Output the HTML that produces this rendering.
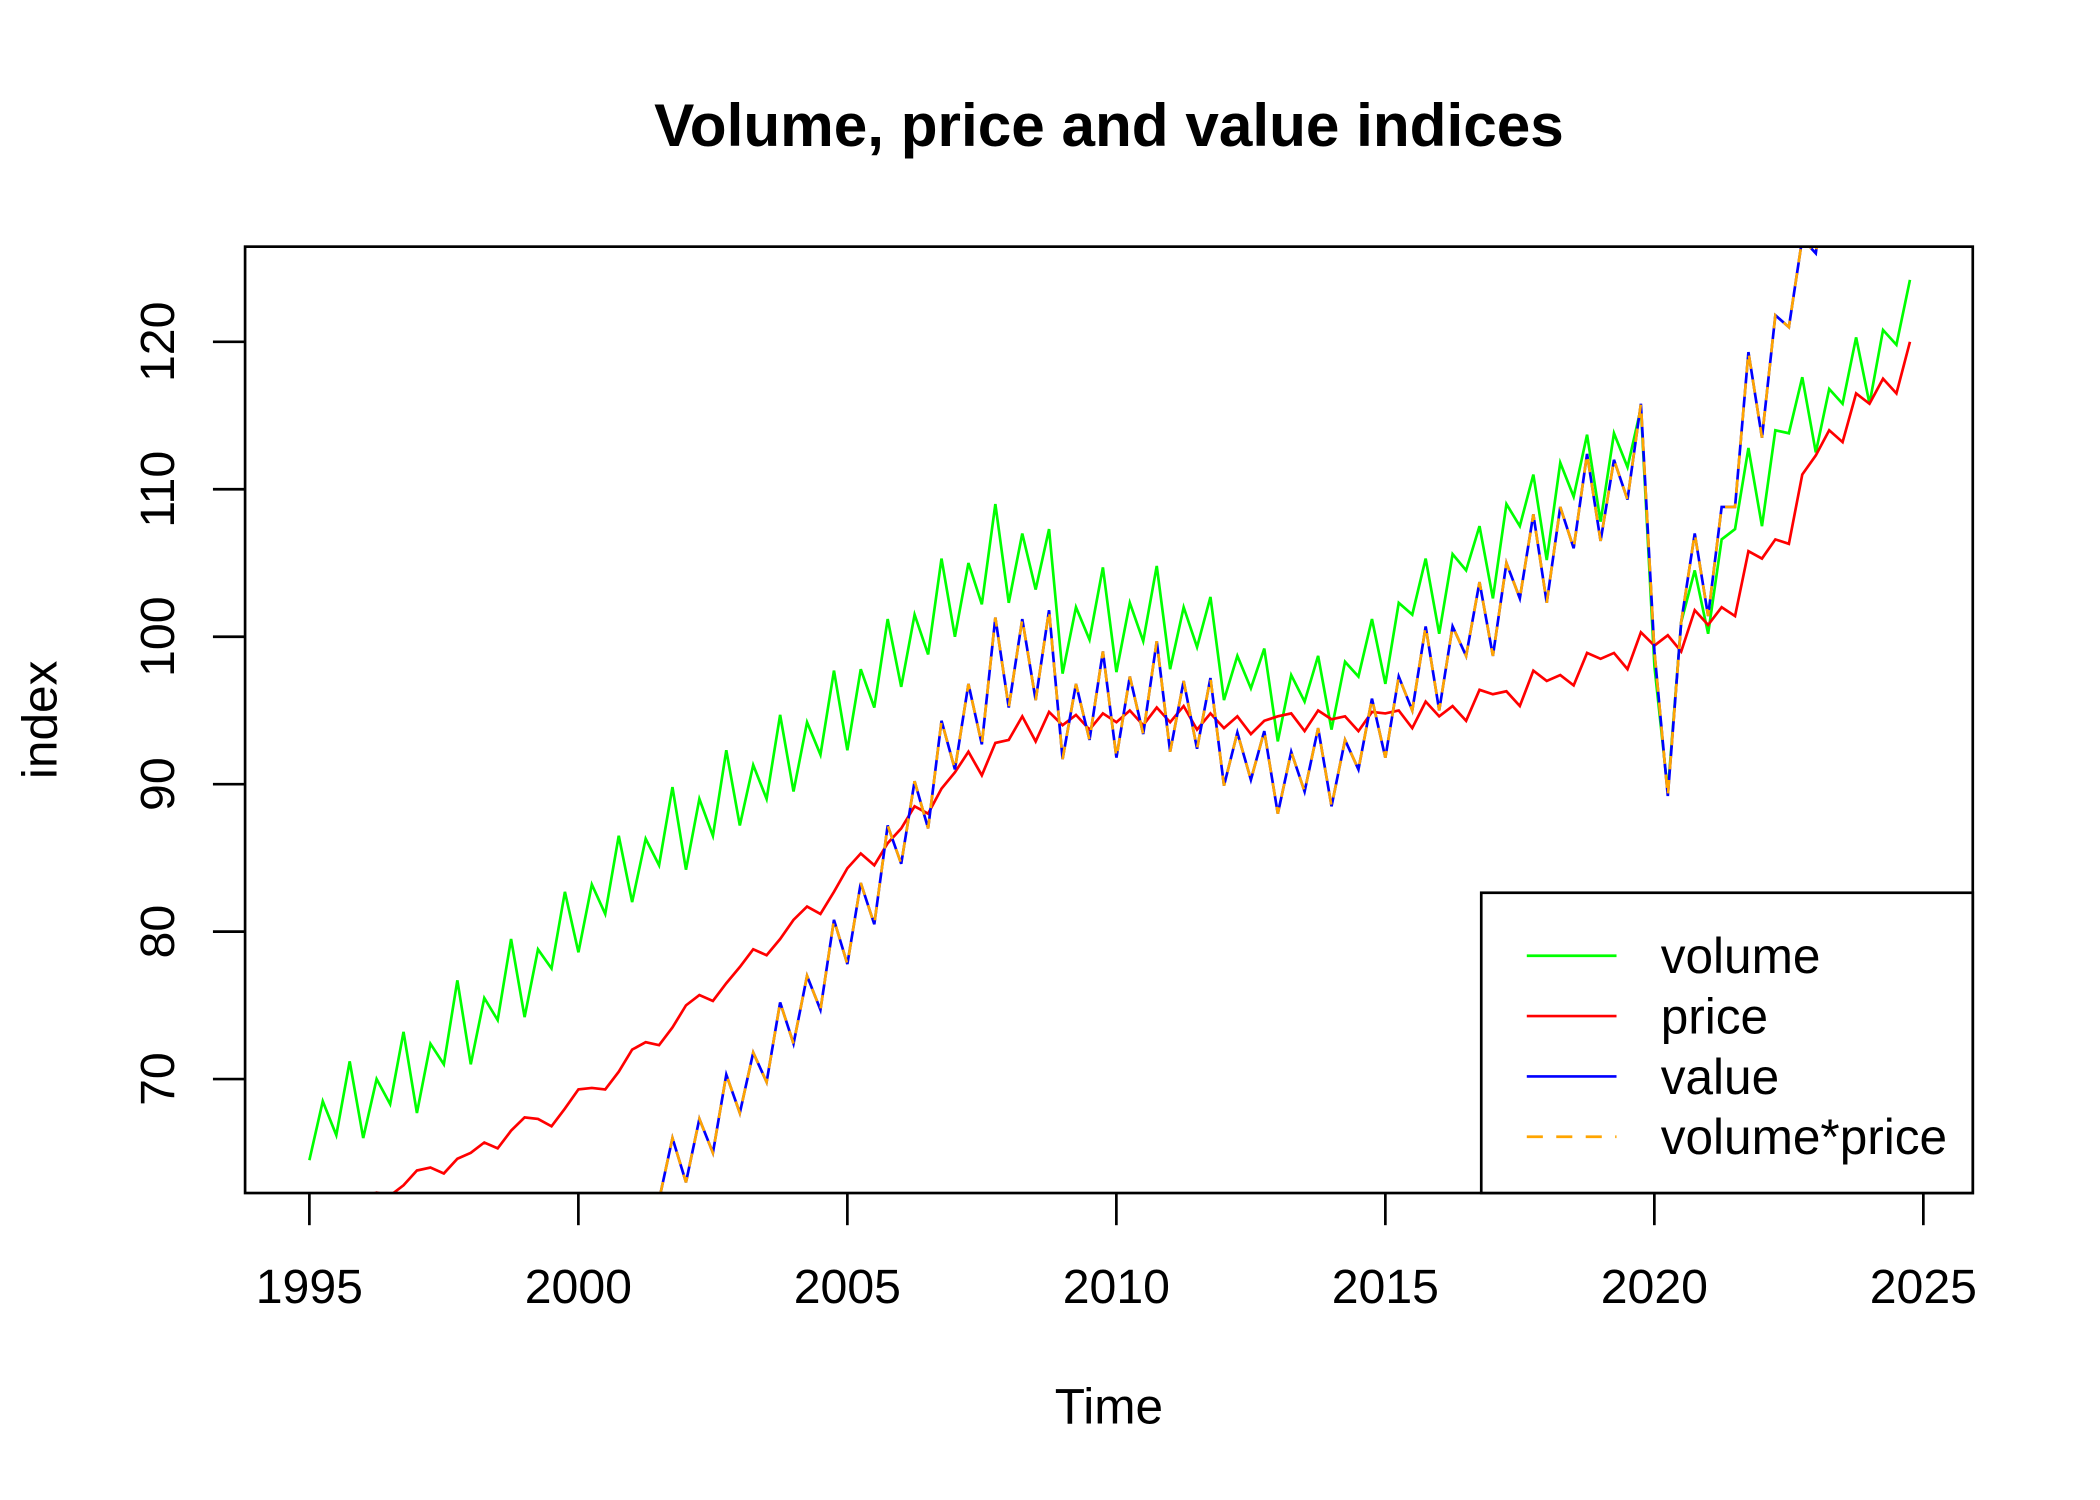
<!DOCTYPE html>
<html><head><meta charset="utf-8"><style>
html,body{margin:0;padding:0;background:#fff;overflow:hidden;}
svg{display:block;}
text{font-family:"Liberation Sans",Arial,sans-serif;fill:#000;}
</style></head><body>
<svg id="s" width="2100" height="1500" viewBox="0 0 1568 1119" preserveAspectRatio="none" xmlns="http://www.w3.org/2000/svg">
<rect width="1568" height="1119" fill="#fff"/>
<defs><clipPath id="c"><rect x="183" y="184" width="1290" height="706"/></clipPath></defs>
<text x="828" y="109" font-size="45" font-weight="bold" text-anchor="middle">Volume, price and value indices</text>
<g id="series" clip-path="url(#c)" fill="none" stroke-width="2"></g>
<rect x="183" y="184" width="1290" height="706" fill="none" stroke="#000" stroke-width="2"/>
<g id="axes" stroke="#000" stroke-width="2"></g>
<g id="labels" font-size="36"></g>
<text x="828" y="1062" font-size="37" text-anchor="middle">Time</text>
<text transform="translate(42,537) rotate(-90)" font-size="37" text-anchor="middle">index</text>
<rect x="1106" y="666" width="367" height="224" fill="#fff" stroke="#000" stroke-width="2"/>
<line x1="1140" y1="713" x2="1207" y2="713" stroke="#00ff00" stroke-width="2"/>
<line x1="1140" y1="758" x2="1207" y2="758" stroke="#ff0000" stroke-width="2"/>
<line x1="1140" y1="803" x2="1207" y2="803" stroke="#0000ff" stroke-width="2"/>
<line x1="1140" y1="848" x2="1207" y2="848" stroke="#ffa500" stroke-width="2" stroke-dasharray="12,10"/>
<text x="1240" y="726" font-size="37">volume</text>
<text x="1240" y="771" font-size="37">price</text>
<text x="1240" y="816" font-size="37">value</text>
<text x="1240" y="861" font-size="37">volume*price</text>
</svg>
<script>
var NS="http://www.w3.org/2000/svg";
function X(t){return 231+(t-1995)*40.17;}
function Y(v){return 255+(120-v)*11;}
var vol=[64.5,68.5,66.2,71.2,66,70,68.3,73.2,67.7,72.4,71,76.7,71,75.5,74,79.5,74.2,78.8,77.5,82.7,78.6,83.2,81.2,86.5,82,86.3,84.5,89.8,84.2,89,86.5,92.3,87.2,91.3,89,94.7,89.5,94.2,92,97.7,92.3,97.8,95.2,101.2,96.6,101.5,98.8,105.3,100,105,102.2,109,102.3,107,103.2,107.3,97.5,102,99.8,104.7,97.6,102.3,99.7,104.8,97.8,102,99.3,102.7,95.7,98.7,96.5,99.2,92.9,97.4,95.6,98.7,93.7,98.3,97.3,101.2,96.8,102.3,101.5,105.3,100.2,105.6,104.5,107.5,102.6,109,107.5,111,105.2,111.8,109.5,113.7,107.8,113.8,111.5,115.5,98,89.5,101,104.5,100.2,106.6,107.3,112.8,107.5,114,113.8,117.6,112.5,116.8,115.8,120.3,115.8,120.8,119.8,124.2];
var pr=[59.5,60.3,61,61.6,62,62.3,62.1,62.8,63.8,64,63.6,64.6,65,65.7,65.3,66.5,67.4,67.3,66.8,68,69.3,69.4,69.3,70.5,72,72.5,72.3,73.5,75,75.7,75.3,76.5,77.6,78.8,78.4,79.5,80.8,81.7,81.2,82.7,84.3,85.3,84.5,86,87,88.5,88,89.7,90.8,92.2,90.6,92.8,93,94.6,92.9,94.9,94,94.7,93.7,94.8,94.2,95,94,95.2,94.2,95.3,93.7,94.8,93.8,94.6,93.4,94.3,94.6,94.8,93.6,95,94.4,94.6,93.6,94.9,94.8,95,93.8,95.6,94.6,95.3,94.3,96.4,96.1,96.3,95.3,97.7,97,97.4,96.7,98.9,98.5,98.9,97.8,100.3,99.4,100.1,99,101.8,100.8,102,101.4,105.8,105.3,106.6,106.3,111,112.3,114,113.2,116.5,115.8,117.5,116.5,120];
var val=[38,42,40,44,41,45,43,47,44,48,46,50,47,51,49,53,50,54,52,56,53,57,55,59,58,62.2,61.8,66,63,67.3,65,70.3,67.7,71.8,69.8,75.2,72.4,77,74.7,80.8,77.8,83.3,80.5,87.2,84.6,90.2,87,94.3,91,96.8,92.7,101.3,95.2,101.2,95.7,101.8,91.7,96.8,93,99,91.8,97.3,93.4,99.7,92.2,97,92.4,97.2,89.9,93.5,90.3,93.6,88,92.2,89.5,93.8,88.5,93,91,95.8,91.8,97.3,95,100.7,95,100.7,98.7,103.7,98.7,105,102.6,108.3,102.3,108.8,106,112.4,106.5,112,109.3,115.8,99,89.2,101,107,101.4,108.8,108.8,119.3,113.5,121.8,121,127,126,133,131,139,133,140,139,148];
function pts(a){return a.map(function(v,i){return X(1995+i/4).toFixed(1)+","+Y(v).toFixed(1);}).join(" ");}
var g=document.getElementById("series");
function pl(a,col,dash){var p=document.createElementNS(NS,"polyline");p.setAttribute("points",pts(a));p.setAttribute("stroke",col);if(dash)p.setAttribute("stroke-dasharray",dash);g.appendChild(p);}
pl(vol,"#00ff00");pl(pr,"#ff0000");pl(val,"#0000ff");pl(val,"#ffa500","10,8");
var ax=document.getElementById("axes"),lb=document.getElementById("labels");
function ln(x1,y1,x2,y2){var l=document.createElementNS(NS,"line");l.setAttribute("x1",x1);l.setAttribute("y1",y1);l.setAttribute("x2",x2);l.setAttribute("y2",y2);ax.appendChild(l);}
function tx(x,y,s,tr){var t=document.createElementNS(NS,"text");t.setAttribute("text-anchor","middle");if(tr)t.setAttribute("transform",tr);else{t.setAttribute("x",x);t.setAttribute("y",y);}t.textContent=s;lb.appendChild(t);}
for(var yr=1995;yr<=2025;yr+=5){var x=X(yr);ln(x,890,x,914);tx(x,972,String(yr));}
for(var v=70;v<=120;v+=10){var y=Y(v);ln(159,y,183,y);tx(0,0,String(v),"translate(130,"+y+") rotate(-90)");}
</script>
</body></html>
